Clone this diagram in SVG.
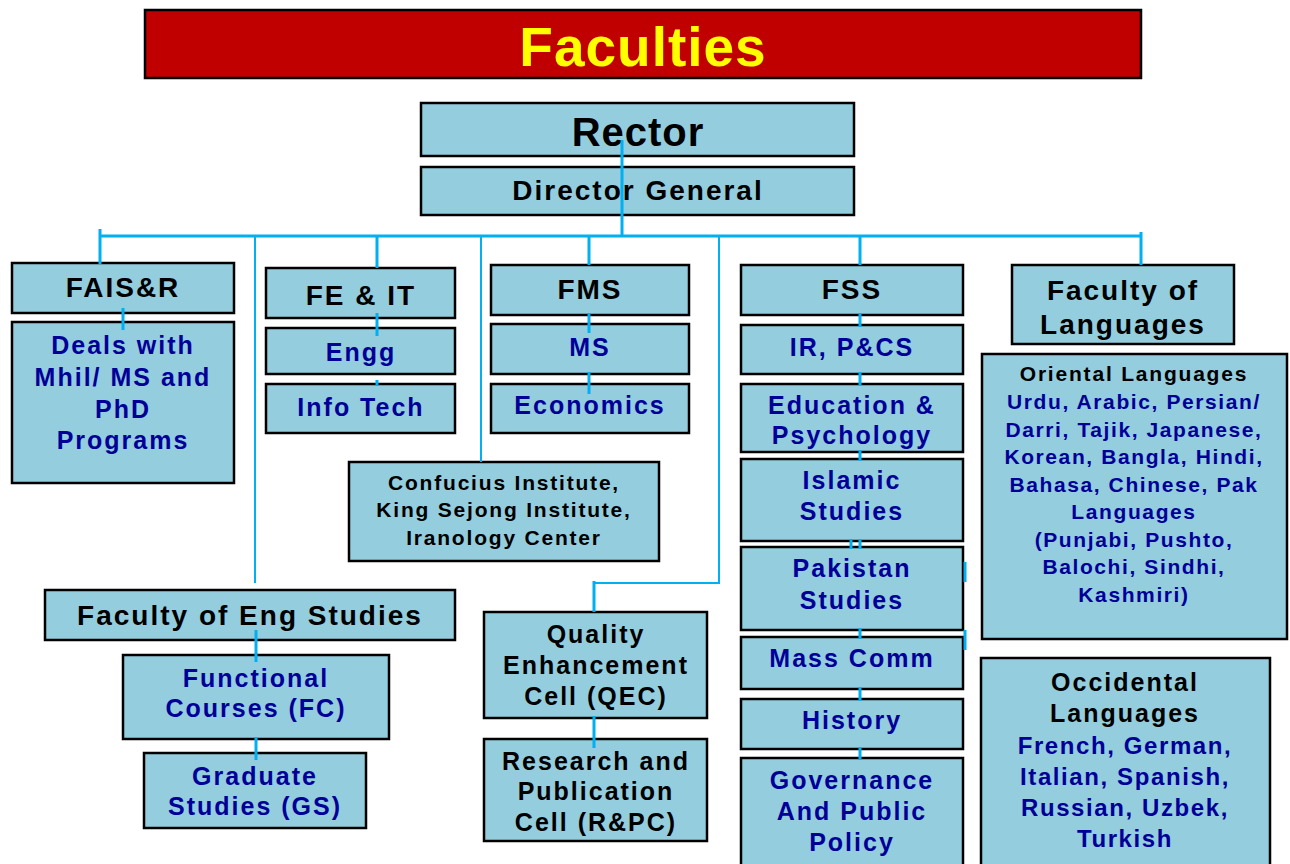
<svg xmlns="http://www.w3.org/2000/svg" width="1290" height="864" viewBox="0 0 1290 864">
<style>
text{font-family:"Liberation Sans",Arial,sans-serif;font-weight:bold;text-anchor:middle}
.box{fill:#94CDDD;stroke:#000;stroke-width:2.5}
.h{font-size:28px;fill:#000;letter-spacing:2px}
.b{font-size:25px;fill:#000099;letter-spacing:2px}
.k{font-size:25px;fill:#000;letter-spacing:2px}
.s{font-size:21px;fill:#000;letter-spacing:1.8px}
.sb{font-size:21px;fill:#000099;letter-spacing:1.6px}
.ob{font-size:24px;fill:#000099;letter-spacing:1.6px}
.c{stroke:#00B0F0;stroke-width:3;fill:none}
.ct{stroke:#00B0F0;stroke-width:2;fill:none}
</style>
<rect width="1290" height="864" fill="#fff"/>
<g id="title">
<rect x="145" y="10" width="996" height="68" fill="#C00000" stroke="#000" stroke-width="2.5"/>
<text x="643" y="66" style="font-size:55px;fill:#FFFF00;letter-spacing:1px">Faculties</text>
</g>
<g id="rector"><rect class="box" x="421" y="103" width="433" height="53"/><text x="638" y="146" style="font-size:40px;fill:#000;letter-spacing:1px">Rector</text></g>
<g id="dg"><rect class="box" x="421" y="167" width="433" height="48"/><text class="h" x="638" y="200">Director General</text></g>
<g id="fais"><rect class="box" x="12" y="263" width="222" height="50"/><text class="h" x="123" y="297">FAIS&amp;R</text></g>
<g id="deals"><rect class="box" x="12" y="322" width="222" height="161"/><text class="b" x="123" y="354">Deals with</text><text class="b" x="123" y="386">Mhil/ MS and</text><text class="b" x="123" y="418">PhD</text><text class="b" x="123" y="449">Programs</text></g>
<g id="feit"><rect class="box" x="266" y="268" width="189" height="50"/><text class="h" x="361" y="305">FE &amp; IT</text></g>
<g id="engg"><rect class="box" x="266" y="328" width="189" height="46"/><text class="b" x="361" y="361">Engg</text></g>
<g id="infotech"><rect class="box" x="266" y="384" width="189" height="49"/><text class="b" x="361" y="416">Info Tech</text></g>
<g id="fms"><rect class="box" x="491" y="265" width="198" height="50"/><text class="h" x="590" y="299">FMS</text></g>
<g id="ms"><rect class="box" x="491" y="324" width="198" height="50"/><text class="b" x="590" y="356">MS</text></g>
<g id="econ"><rect class="box" x="491" y="384" width="198" height="49"/><text class="b" x="590" y="414">Economics</text></g>
<g id="confucius"><rect class="box" x="349" y="462" width="310" height="99"/><text class="s" x="504" y="490">Confucius Institute,</text><text class="s" x="504" y="517">King Sejong Institute,</text><text class="s" x="504" y="545">Iranology Center</text></g>
<g id="fss"><rect class="box" x="741" y="265" width="222" height="50"/><text class="h" x="852" y="299">FSS</text></g>
<g id="ir"><rect class="box" x="741" y="325" width="222" height="49"/><text class="b" x="852" y="356">IR, P&amp;CS</text></g>
<g id="edu"><rect class="box" x="741" y="384" width="222" height="68"/><text class="b" x="852" y="414">Education &amp;</text><text class="b" x="852" y="444">Psychology</text></g>
<g id="islamic"><rect class="box" x="741" y="459" width="222" height="82"/><text class="b" x="852" y="489">Islamic</text><text class="b" x="852" y="520">Studies</text></g>
<g id="pakistan"><rect class="box" x="741" y="547" width="222" height="83"/><text class="b" x="852" y="577">Pakistan</text><text class="b" x="852" y="609">Studies</text></g>
<g id="masscomm"><rect class="box" x="741" y="637" width="222" height="52"/><text class="b" x="852" y="667">Mass Comm</text></g>
<g id="history"><rect class="box" x="741" y="699" width="222" height="50"/><text class="b" x="852" y="729">History</text></g>
<g id="governance"><rect class="box" x="741" y="758" width="222" height="112"/><text class="b" x="852" y="789">Governance</text><text class="b" x="852" y="820">And Public</text><text class="b" x="852" y="851">Policy</text></g>
<g id="languages"><rect class="box" x="1012" y="265" width="222" height="79"/><text class="h" x="1123" y="300">Faculty of</text><text class="h" x="1123" y="334">Languages</text></g>
<g id="oriental"><rect class="box" x="982" y="354" width="305" height="285"/>
<text class="s" x="1134" y="381">Oriental Languages</text>
<text class="sb" x="1134" y="409">Urdu, Arabic, Persian/</text>
<text class="sb" x="1134" y="437">Darri, Tajik, Japanese,</text>
<text class="sb" x="1134" y="464">Korean, Bangla, Hindi,</text>
<text class="sb" x="1134" y="492">Bahasa, Chinese, Pak</text>
<text class="sb" x="1134" y="519">Languages</text>
<text class="sb" x="1134" y="547">(Punjabi, Pushto,</text>
<text class="sb" x="1134" y="574">Balochi, Sindhi,</text>
<text class="sb" x="1134" y="602">Kashmiri)</text></g>
<g id="occidental"><rect class="box" x="981" y="658" width="289" height="212"/>
<text class="k" x="1125" y="691">Occidental</text>
<text class="k" x="1125" y="722">Languages</text>
<text class="ob" x="1125" y="754">French, German,</text>
<text class="ob" x="1125" y="785">Italian, Spanish,</text>
<text class="ob" x="1125" y="816">Russian, Uzbek,</text>
<text class="ob" x="1125" y="847">Turkish</text></g>
<g id="engstudies"><rect class="box" x="45" y="590" width="410" height="50"/><text class="h" x="250" y="625">Faculty of Eng Studies</text></g>
<g id="fc"><rect class="box" x="123" y="655" width="266" height="84"/><text class="b" x="256" y="687">Functional</text><text class="b" x="256" y="717">Courses (FC)</text></g>
<g id="gs"><rect class="box" x="144" y="753" width="222" height="75"/><text class="b" x="255" y="785">Graduate</text><text class="b" x="255" y="815">Studies (GS)</text></g>
<g id="qec"><rect class="box" x="484" y="612" width="223" height="106"/><text class="k" x="596" y="643">Quality</text><text class="k" x="596" y="674">Enhancement</text><text class="k" x="596" y="705">Cell (QEC)</text></g>
<g id="rpc"><rect class="box" x="484" y="739" width="223" height="102"/><text class="k" x="596" y="770">Research and</text><text class="k" x="596" y="800">Publication</text><text class="k" x="596" y="831">Cell (R&amp;PC)</text></g>
<g id="connectors">
<path class="c" d="M622 140V236M100 236H1141M100 229V264M377 236V268M377 313V336M377 380V386M589 236V265M589 313V333M589 372V394M860 236V265M860 313V327M860 372V386M860 450V461M860 539V549M851 539V549M860 628V639M860 687V701M860 747V760M965 562V582M965 630V650M1141 232V265M123 308V330M256 630V662M256 737V760M594 581V612M594 716V748"/>
<path class="ct" d="M255 236V583M481 236V462M719 236V583H594"/>
</g>
</svg>
